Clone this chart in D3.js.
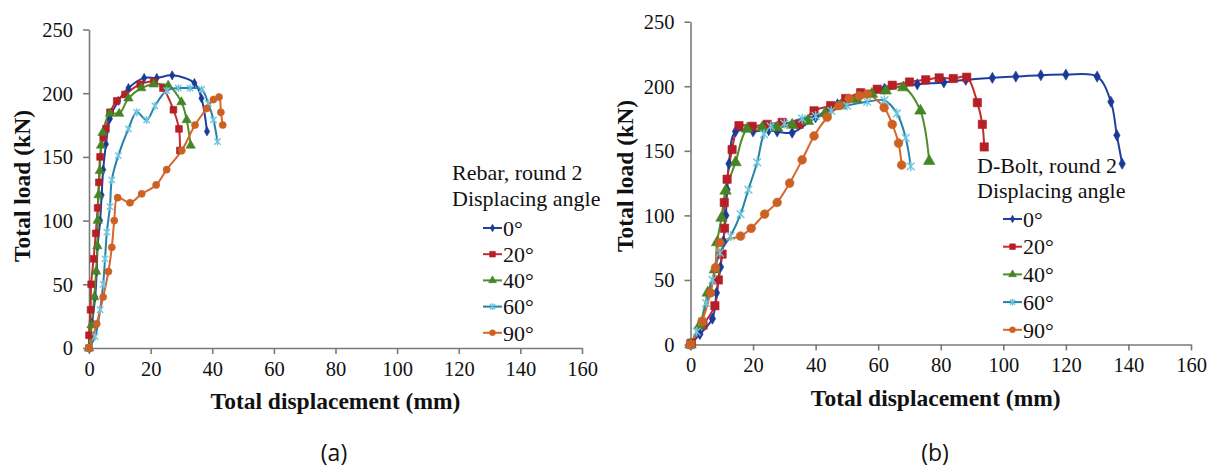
<!DOCTYPE html>
<html>
<head>
<meta charset="utf-8">
<script src="https://cdn.jsdelivr.net/npm/d3@7/dist/d3.min.js"></script>
<style>
  html, body { margin: 0; padding: 0; background: #fff; }
  svg { display: block; }
</style>
</head>
<body>
<svg id="chart" width="1218" height="469"></svg>
<script>
// ---------- DATA ----------
const seriesNames = ["0°", "20°", "40°", "60°", "90°"];
const xTicks = [0, 20, 40, 60, 80, 100, 120, 140, 160];
const yTicks = [0, 50, 100, 150, 200, 250];

// Panel (a) Rebar, round 2 : [displacement mm, load kN]
const rebar0 = [[0,0],[1,20],[2,40],[2.5,60],[2.8,80],[3.6,100],[4.1,120],[4.6,140],[5.5,160],[6.8,180],[9.5,194],[12.8,204],[17.9,212],[22,212],[27,214],[34.2,208],[36.5,196],[38.3,170]];
const rebar20 = [[0,0],[0,10],[0.5,30],[0.7,50],[1.5,70],[2.2,90],[2.8,110],[3.2,130],[3.6,150],[4.6,165],[5.5,172],[6.8,185],[9,194],[11.7,199],[16.6,207],[21,209],[24,204],[27.4,187],[29.2,172],[29.5,155]];
const rebar40 = [[0,0],[0.8,18],[1.7,40],[2.3,60],[2.7,80],[2.8,100],[3.1,120],[3.5,139],[3.9,159],[4.4,169],[6.8,184],[9.8,184],[12.8,196],[17,204],[21,207],[25.7,206],[30,193],[31.7,179],[33,159]];
const rebar60 = [[0,0],[2,9],[3.6,30],[4.6,50],[5.2,70],[5.8,91],[6.8,111],[7.4,132],[9.5,151],[12.8,172],[15.5,185],[18.7,179],[21.4,190],[25.2,202],[29,204],[32.8,204],[36.6,203],[38.7,192],[40.4,179],[41.7,162]];
const rebar90 = [[0,0],[2.5,19],[4.6,40],[6.3,60],[7.4,79],[8.2,100],[9.3,118],[13.3,114],[17.1,121],[21.8,128],[25.2,140],[30.1,155],[34.4,175],[38.2,188],[40.4,195],[42.2,197],[42.8,185],[43.4,175]];

// Panel (b) D-Bolt, round 2
const dbolt0 = [[0,0],[3,8],[7,20],[8.3,40],[9.6,60],[10.5,80],[11.3,100],[11.7,120],[12.3,140],[14.4,165],[20,165],[25,166],[27.7,165],[32.5,164],[40,176],[47,186],[54,194],[62,198],[72.5,201.5],[81,203],[88,205],[96.5,206.5],[104,207.5],[112,208.5],[120,209],[130,207.5],[134.4,188],[136.3,162],[138,140]];
const dbolt20 = [[0,0],[0.3,1],[4,15],[7.8,30],[8.9,50],[10.1,70],[10.9,90],[10.8,110],[11.7,128],[13.3,151],[15.5,169.5],[19.7,169],[24.5,170.5],[29.3,172],[34.7,170.5],[39.5,181],[44.8,185],[49.6,190.5],[54.4,195],[59.7,197.7],[64.5,200.8],[70,203.3],[75.2,205],[79.5,206.5],[84,206],[88.3,207],[91.7,187.3],[93.3,170.5],[93.9,153]];
const dbolt40 = [[0,0],[3,15],[5.5,40],[7.8,58],[8.5,79],[9.9,98],[11.2,119],[14.4,141],[18.1,167],[22.9,168],[27.7,168],[32.5,170],[37.5,173],[43,179],[48,185],[53,190],[58,194],[62.4,196.5],[68,199],[73.5,181],[76.3,142]];
const dbolt60 = [[0,0],[2,10],[3.7,18],[5,32],[7,50],[9.4,71],[12.8,84],[16,101],[18.5,120],[21.3,141],[23.5,163],[25.6,169],[30,171],[35.7,175],[40,177],[45,181],[50,185],[56.5,188],[62,189],[66,179],[68.8,160],[70.4,138]];
const dbolt90 = [[0,0],[3.7,18],[6.4,40],[8,59.5],[9.4,79],[16,84],[19.4,90],[23.7,101],[27.7,110],[31.7,125],[35.7,143],[39.5,161.5],[43.7,176],[47.5,185],[50.7,190.5],[54,192.5],[56.5,194],[61.9,183.5],[64.5,170.5],[66.5,156],[67.5,139]];

const rebarSeries = [rebar0, rebar20, rebar40, rebar60, rebar90];
const dboltSeries = [dbolt0, dbolt20, dbolt40, dbolt60, dbolt90];

// ---------- STYLE ----------
const lineColors   = ["#1f3f9c", "#c42a30", "#4f8d2a", "#2583a9", "#d5672b"];
const markerColors = ["#1a3a95", "#b51f25", "#458524", "#6ec6de", "#cd6124"];
const markerTypes  = ["diamond", "square", "triangle", "asterisk", "circle"];
const serif = '"Liberation Serif", "Times New Roman", Times, serif';

const svg = d3.select("#chart");

function markerPath(type, s) {
  if (type === "diamond") return d3.symbol(d3.symbolDiamond, s * 0.6)();
  if (type === "square") return d3.symbol(d3.symbolSquare, s * 1.15)();
  if (type === "triangle") return d3.symbol(d3.symbolTriangle, s * 0.95)();
  if (type === "circle") return d3.symbol(d3.symbolCircle, s * 1.0)();
  const r = Math.sqrt(s) * 0.5;
  return `M${-r},${-r}L${r},${r}M${-r},${r}L${r},${-r}M0,${-r*1.25}L0,${r*1.25}`;
}

function drawMarker(g, type, color, x, y, s) {
  const p = g.append("path").attr("d", markerPath(type, s))
    .attr("transform", `translate(${x},${y})`);
  if (type === "asterisk") {
    p.attr("fill", "none").attr("stroke", color).attr("stroke-width", 1.4);
  } else {
    p.attr("fill", color).attr("stroke", color).attr("stroke-width", 0.6);
  }
}

function serifText(sel, size, weight) {
  return sel.attr("font-family", serif).style("font-family", serif)
    .attr("font-size", size).attr("font-weight", weight || "normal").attr("fill", "#111");
}

function panel(cfg) {
  const x = d3.scaleLinear().domain([0, 160]).range([cfg.x0, cfg.x1]);
  const y = d3.scaleLinear().domain([0, 250]).range([cfg.y0, cfg.y1]);
  const g = svg.append("g");

  const xAxis = d3.axisBottom(x).tickValues(xTicks).tickSize(6).tickSizeOuter(0).tickPadding(cfg.xPad);
  const yAxis = d3.axisLeft(y).tickValues(yTicks).tickSize(6).tickSizeOuter(0).tickPadding(cfg.yPad);
  const gx = g.append("g").attr("transform", `translate(0,${cfg.y0})`).call(xAxis);
  const gy = g.append("g").attr("transform", `translate(${cfg.x0},0)`).call(yAxis);
  [gx, gy].forEach(a => {
    a.attr("font-family", serif).style("font-family", serif);
    a.selectAll("path.domain").attr("stroke", "#7a7a7a").attr("stroke-width", 1.6);
    a.selectAll(".tick line").attr("stroke", "#7a7a7a").attr("stroke-width", 1.6);
    serifText(a.selectAll(".tick text"), 20.5);
  });
  gy.selectAll(".tick text").attr("dy", "0.34em");

  serifText(g.append("text"), 23.5, "bold")
    .attr("x", (cfg.x0 + cfg.x1) / 2 + cfg.xtDx).attr("y", cfg.xtY)
    .attr("text-anchor", "middle").text("Total displacement (mm)");
  serifText(g.append("text"), 23.5, "bold")
    .attr("transform", `translate(${cfg.ytX},${cfg.ytY}) rotate(-90)`)
    .attr("text-anchor", "middle").text("Total load (kN)");

  const line = d3.line().x(d => x(d[0])).y(d => y(d[1])).curve(d3.curveCatmullRom.alpha(0.5));
  cfg.series.forEach((data, i) => {
    g.append("path").datum(data).attr("d", line).attr("fill", "none")
      .attr("stroke", lineColors[i]).attr("stroke-width", 2);
  });
  cfg.series.forEach((data, i) => {
    data.forEach(d => drawMarker(g, markerTypes[i], markerColors[i], x(d[0]), y(d[1]), cfg.ms));
  });

  const lg = g.append("g");
  cfg.legendTitle.forEach((t, k) => {
    serifText(lg.append("text"), 22).attr("x", cfg.lgX).attr("y", cfg.lgY + k * cfg.lgTitleGap).text(t);
  });
  seriesNames.forEach((n, i) => {
    const cy = cfg.itemY + i * cfg.itemGap;
    lg.append("line").attr("x1", cfg.itemX).attr("x2", cfg.itemX + 19)
      .attr("y1", cy).attr("y2", cy).attr("stroke", lineColors[i]).attr("stroke-width", 2);
    drawMarker(lg, markerTypes[i], markerColors[i], cfg.itemX + 9.5, cy, 28);
    serifText(lg.append("text"), 22).attr("x", cfg.itemX + 20).attr("y", cy).attr("dy", "0.35em").text(n);
  });

  g.append("text").attr("x", cfg.labX).attr("y", 461).attr("text-anchor", "middle")
    .attr("font-family", "'Open Sans', 'Noto Sans', sans-serif").attr("font-size", 23)
    .attr("fill", "#111").text(cfg.label);
}

panel({
  series: rebarSeries, x0: 89, x1: 582, y0: 348, y1: 29.5,
  xPad: 7, yPad: 10, xtY: 409, xtDx: 0, ytX: 30, ytY: 186, ms: 40,
  legendTitle: ["Rebar, round 2", "Displacing angle"], lgX: 452, lgY: 180, lgTitleGap: 26,
  itemX: 483, itemY: 228, itemGap: 26.2, labX: 334, label: "(a)"
});

panel({
  series: dboltSeries, x0: 690.5, x1: 1191, y0: 344.5, y1: 21.7,
  xPad: 7, yPad: 10, xtY: 406, xtDx: -5, ytX: 633, ytY: 176, ms: 60,
  legendTitle: ["D-Bolt, round 2", "Displacing angle"], lgX: 977, lgY: 173, lgTitleGap: 25,
  itemX: 1003, itemY: 219, itemGap: 27.7, labX: 935, label: "(b)"
});
</script>
</body>
</html>
